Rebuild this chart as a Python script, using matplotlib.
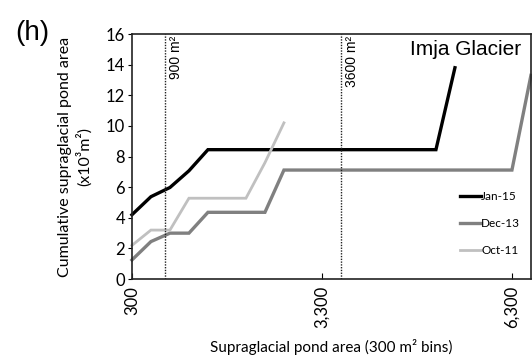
import matplotlib
matplotlib.use("Agg")
import matplotlib.pyplot as plt

plt.rcParams["font.family"] = ["Lato", "DejaVu Sans"]

# pond-area bins (m2), 300 m2 wide
BINS = [300, 600, 900, 1200, 1500, 1800, 2100, 2400, 2700, 3000, 3300,
        3600, 3900, 4200, 4500, 4800, 5100, 5400, 5700, 6000, 6300, 6600]

# cumulative supraglacial pond area (x10^3 m2)
JAN_15 = [4.2, 5.38, 5.98, 7.07, 8.45, 8.45, 8.45, 8.45, 8.45, 8.45, 8.45,
          8.45, 8.45, 8.45, 8.45, 8.45, 8.45, 13.8]
DEC_13 = [1.25, 2.45, 3.0, 3.0, 4.36, 4.36, 4.36, 4.36, 7.12, 7.12, 7.12,
          7.12, 7.12, 7.12, 7.12, 7.12, 7.12, 7.12, 7.12, 7.12, 7.12, 13.3]
OCT_11 = [2.2, 3.2, 3.2, 5.28, 5.28, 5.28, 5.28, 7.6, 10.2]

SERIES = [("Jan-15", JAN_15, "#000000", 2.4),
          ("Dec-13", DEC_13, "#808080", 2.4),
          ("Oct-11", OCT_11, "#c0c0c0", 2.0)]

MARKERS = [(820, "900 m²"), (3600, "3600 m²")]
XTICKS = [300, 3300, 6300]
XTICK_LABELS = ["300", "3,300", "6,300"]
YTICKS = [0, 2, 4, 6, 8, 10, 12, 14, 16]

fig = plt.figure(figsize=(5.32, 3.62), dpi=100)
ax = fig.add_axes([0.248, 0.229, 0.75, 0.677])

for label, vals, color, lw in SERIES:
    ax.plot(BINS[:len(vals)], vals, color=color, lw=lw, label=label,
            solid_joinstyle="miter", clip_on=False)

for xv, txt in MARKERS:
    ax.axvline(xv, color="#222222", lw=1.0, ls=(0, (1, 1)))
    ax.text(xv + 70, 15.9, txt, rotation=90, ha="left", va="top",
            fontsize=10, family=["Liberation Sans", "DejaVu Sans"])

ax.text(0.975, 0.975, "Imja Glacier", transform=ax.transAxes, ha="right",
        va="top", fontsize=15, family=["Liberation Sans", "DejaVu Sans"])

ax.set_xlim(BINS[0], BINS[-1])
ax.set_ylim(0, 16)
ax.set_yticks(YTICKS)
ax.tick_params(axis="y", direction="out", length=3, labelsize=12, pad=2)
ax.set_xticks(XTICKS)
ax.set_xticklabels(XTICK_LABELS, rotation=90)
ax.tick_params(axis="x", direction="in", length=4, labelsize=12, pad=5)
for sp in ax.spines.values():
    sp.set_linewidth(1.2)
    sp.set_color("#222222")

ax.set_xlabel("Supraglacial pond area (300 m² bins)", fontsize=11, labelpad=8)
ax.set_ylabel("Cumulative supraglacial pond area\n(x10³m²)", fontsize=11.5,
              labelpad=10, linespacing=1.3)

ax.legend(loc="lower right", bbox_to_anchor=(1.0, 0.05), frameon=False,
          fontsize=8.5, handlelength=1.8, handletextpad=0.0, labelspacing=1.35)

fig.text(0.028, 0.91, "(h)", fontsize=20, ha="left", va="center",
         family=["Liberation Sans", "DejaVu Sans"])

fig.savefig("out.png", dpi=100)
